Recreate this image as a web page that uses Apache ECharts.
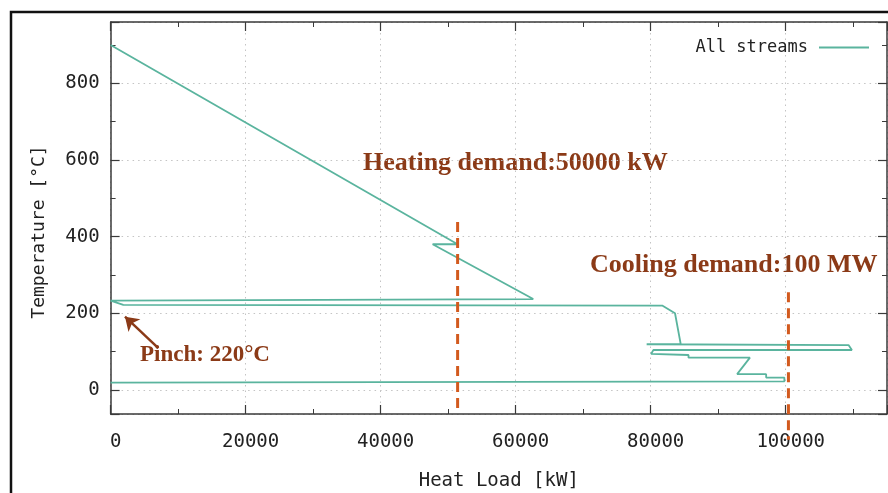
<!DOCTYPE html>
<html>
<head>
<meta charset="utf-8">
<script src="https://cdn.jsdelivr.net/npm/echarts@6/dist/echarts.min.js"></script>
<style>
	html, body { margin: 0; padding: 0; background: #fff; overflow: hidden; }
	#main { width: 888px; height: 493px; }
</style>
</head>
<body>
<div id="main"></div>
<script>
	// composite curve, traced point by point (heat load kW, temperature °C)
	var heatLoad = [0, 51400, 47700, 62600, 0, 1880, 81700, 83600, 84450, 79400, 109300, 109800,
		80400, 80060, 85600, 85600, 94700, 92800, 97100, 97100, 99800, 99800, 0];
	var temperature = [900, 380, 380, 237, 233, 222, 220, 200, 119, 119, 117, 104,
		104, 94, 91, 84, 84, 41, 41, 32, 32, 22, 19];

	// dashed demand markers
	var heatingX = [51400, 51400];
	var heatingT = [438, -63];
	var coolingX = [100400, 100400];
	var coolingT = [255, -130];

	// pinch arrow (tail -> head)
	var pinchArrowX = [7067, 2133];
	var pinchArrowT = [109, 191];

	var xTickStep = 20000;
	var yTickStep = 200;

	function pairs(xs, ys) {
		var out = [];
		for (var i = 0; i < xs.length; i++) {
			out.push([xs[i], ys[i]]);
		}
		return out;
	}

	var monoFont = '"DejaVu Sans Mono", monospace';
	var serifFont = '"Liberation Serif", "Times New Roman", serif';
	var borderColor = '#3a3a3a';
	var brown = '#8b3a17';
	var dashColor = '#d25a1e';

	function axisBase(extra) {
		var a = {
			type: 'value',
			axisLine: { show: true, onZero: false, lineStyle: { color: borderColor, width: 1.5 } },
			axisTick: { show: true, inside: true, length: 9, lineStyle: { color: borderColor, width: 1.2 } },
			minorTick: { show: true, splitNumber: 2, length: 5, lineStyle: { color: borderColor, width: 1 } },
			axisLabel: { show: false },
			splitLine: { show: false },
			minorSplitLine: { show: false }
		};
		for (var k in extra) a[k] = extra[k];
		return a;
	}

	var gridLine = { show: true, lineStyle: { color: '#c4c4c4', width: 1, type: [1.5, 4] } };

	var myChart = echarts.init(document.getElementById('main'));
	var option = {
		animation: false,
		backgroundColor: '#fff',
		grid: {
			left: 110.6,
			right: 1,
			top: 22,
			bottom: 79,
			containLabel: false,
			outerBoundsMode: 'none'
		},
		legend: {
			data: [{ name: 'All streams', icon: 'rect' }],
			right: 14,
			top: 34,
			align: 'right',
			itemWidth: 50,
			itemHeight: 2,
			textStyle: { fontFamily: monoFont, fontSize: 17, color: '#222', padding: [0, 6, 0, 0] }
		},
		xAxis: [
			axisBase({
				position: 'bottom',
				min: 0,
				max: 115000,
				interval: xTickStep,
				name: 'Heat Load [kW]',
				nameLocation: 'middle',
				nameGap: 58,
				nameTextStyle: { fontFamily: monoFont, fontSize: 19, color: '#222' },
				axisLabel: {
					show: true,
					margin: 19,
					padding: [0, 0, 0, 10],
					fontFamily: monoFont,
					fontSize: 19,
					color: '#222',
					formatter: function(v) { return v % xTickStep === 0 && v <= 100000 ? String(v) : ''; }
				},
				splitLine: gridLine
			}),
			axisBase({ position: 'top', min: 0, max: 115000, interval: xTickStep })
		],
		yAxis: [
			axisBase({
				position: 'left',
				min: -63,
				max: 960,
				splitNumber: 5,
				name: 'Temperature [°C]',
				nameLocation: 'middle',
				nameGap: 62,
				nameRotate: 90,
				nameTextStyle: { fontFamily: monoFont, fontSize: 18, color: '#222', padding: [0, 28, 0, 0] },
				axisLabel: {
					show: true,
					margin: 11,
					fontFamily: monoFont,
					fontSize: 19,
					color: '#222',
					formatter: function(v) { return v % yTickStep === 0 ? String(v) : ''; }
				},
				splitLine: gridLine
			}),
			axisBase({ position: 'right', min: -63, max: 960, splitNumber: 5 })
		],
		series: [{
			name: 'All streams',
			type: 'line',
			data: pairs(heatLoad, temperature),
			symbol: 'none',
			lineStyle: { color: '#5ab49e', width: 1.8 },
			itemStyle: { color: '#5ab49e' },
			z: 3
		}, {
			name: 'heating',
			type: 'line',
			data: pairs(heatingX, heatingT),
			symbol: 'none',
			clip: false,
			lineStyle: { color: dashColor, width: 3, type: [10, 6] },
			z: 4,
			markLine: {
				silent: true,
				symbol: ['none', 'arrow'],
				symbolSize: 13,
				label: { show: false },
				lineStyle: { color: brown, width: 2.5, type: 'solid' },
				data: [[
					{ coord: [pinchArrowX[0], pinchArrowT[0]] },
					{ coord: [pinchArrowX[1], pinchArrowT[1]] }
				]]
			}
		}, {
			name: 'cooling',
			type: 'line',
			data: pairs(coolingX, coolingT),
			symbol: 'none',
			clip: false,
			lineStyle: { color: dashColor, width: 3, type: [10, 6] },
			z: 4
		}],
		graphic: [{
			type: 'rect',
			shape: { x: 11, y: 12, width: 900, height: 520 },
			style: { fill: 'none', stroke: '#111', lineWidth: 2.5 },
			silent: true
		}, {
			type: 'text',
			left: 363,
			top: 150,
			style: { text: 'Heating demand:50000 kW', font: 'bold 26px ' + serifFont, fill: brown }
		}, {
			type: 'text',
			left: 590,
			top: 252,
			style: { text: 'Cooling demand:100 MW', font: 'bold 26px ' + serifFont, fill: brown }
		}, {
			type: 'text',
			left: 140,
			top: 344,
			style: { text: 'Pinch: 220°C', font: 'bold 23px ' + serifFont, fill: brown }
		}]
	};
	myChart.setOption(option);
</script>
</body>
</html>
